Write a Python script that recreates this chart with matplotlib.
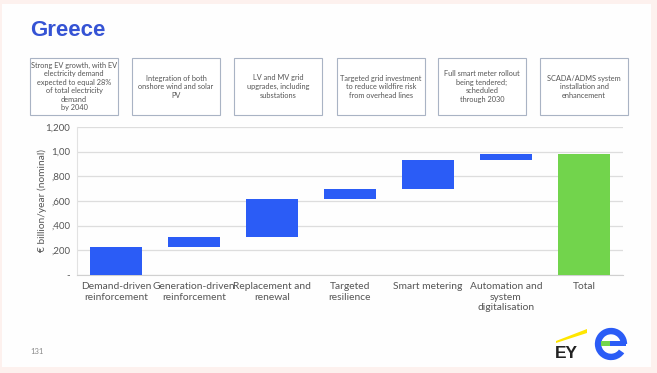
import numpy as np
import matplotlib
matplotlib.use("Agg")
import matplotlib.pyplot as plt
from matplotlib.patches import Rectangle, Wedge, Polygon

# ---- data ----
categories = ["Demand-driven\nreinforcement", "Generation-driven\nreinforcement",
              "Replacement and\nrenewal", "Targeted\nresilience", "Smart metering",
              "Automation and\nsystem\ndigitalisation", "Total"]
increments = [225, 81, 313, 78, 238, 46]
total_value = 981
ytick_values = [0, 200, 400, 600, 800, 1000, 1200]
ytick_labels = ["-", ",200", ",400", ",600", ",800", "1,00", "1,200"]
box_texts = [
    "Strong EV growth, with EV\nelectricity demand\nexpected to equal 28%\nof total electricity\ndemand\nby 2040",
    "Integration of both\nonshore wind and solar\nPV",
    "LV and MV grid\nupgrades, including\nsubstations",
    "Targeted grid investment\nto reduce wildfire risk\nfrom overhead lines",
    "Full smart meter rollout\nbeing tendered;\nscheduled\nthrough 2030",
    "SCADA/ADMS system\ninstallation and\nenhancement",
]

W, H = 657, 373
fig = plt.figure(figsize=(W / 100, H / 100), dpi=100)
fig.patch.set_facecolor("#fdf1ee")
plt.rcParams['font.family'] = ['Lato', 'DejaVu Sans']

# white panel
fig.add_artist(Rectangle((2 / W, 1 - 367 / H), 649 / W, 363 / H, transform=fig.transFigure,
                         facecolor="#fefefe", edgecolor="none", zorder=0))

ax = fig.add_axes([77 / W, 1 - 275 / H, 546 / W, 148 / H])
ax.set_facecolor("none")

bottoms = np.concatenate([[0], np.cumsum(increments)[:-1]])
x = np.arange(len(categories))
ax.bar(x[:-1], increments, bottom=bottoms, width=0.66, color="#2b5cf6", zorder=3)
ax.bar(x[-1], total_value, width=0.66, color="#72d44c", zorder=3)

ax.set_xlim(-0.5, len(categories) - 0.5)
ax.set_ylim(0, 1200)
ax.set_yticks(ytick_values)
ax.set_yticklabels(ytick_labels, fontsize=7, color="#555555")
ax.set_xticks(x)
ax.set_xticklabels(categories, fontsize=7.4, color="#555555", linespacing=1.25)
ax.tick_params(axis="y", length=0, pad=5)
ax.tick_params(axis="x", length=0, pad=5)
ax.grid(axis="y", color="#dddddd", linewidth=0.9, zorder=0)
for s in ["top", "right"]:
    ax.spines[s].set_visible(False)
ax.spines["left"].set_color("#e2e2e2")
ax.spines["left"].set_linewidth(0.8)
ax.spines["bottom"].set_color("#d0d0d0")
ax.set_ylabel("€ billion/year (nominal)", fontsize=7.3, color="#555555", labelpad=-1)

# title
fig.text(30 / W, 1 - 30 / H, "Greece", fontsize=16, fontweight="bold", color="#3553d4",
         va="center", ha="left", family=["Liberation Sans", "DejaVu Sans"])

# text boxes
box_left = [30, 132, 234, 337, 438, 540]
box_w, box_top, box_bot = 88, 58, 115
for bl, t in zip(box_left, box_texts):
    fig.add_artist(Rectangle((bl / W, 1 - box_bot / H), box_w / W, (box_bot - box_top) / H,
                             transform=fig.transFigure, facecolor="white",
                             edgecolor="#a9b3c4", linewidth=0.8))
    fig.text((bl + box_w / 2) / W, 1 - (box_top + box_bot) / 2 / H, t, fontsize=5.3,
             color="#555555", ha="center", va="center", linespacing=1.25)

# page number
fig.text(30 / W, 1 - 352 / H, "131", fontsize=5.5, color="#888888", ha="left", va="center")

# EY logo
fig.add_artist(Polygon([(556 / W, 1 - 341 / H), (587 / W, 1 - 329 / H), (587 / W, 1 - 333 / H),
                        (556 / W, 1 - 343 / H)], closed=True, transform=fig.transFigure,
                       facecolor="#ffe600", edgecolor="none"))
fig.text(555 / W, 1 - 354 / H, "EY", fontsize=12.5, fontweight="bold", color="#222222",
         ha="left", va="center", family=["Liberation Sans", "DejaVu Sans"])

# "e" logo
lax = fig.add_axes([594 / W, 1 - 361 / H, 34 / W, 34 / H])
lax.set_xlim(-1, 1); lax.set_ylim(-1, 1); lax.set_aspect("equal"); lax.axis("off")
lax.add_patch(Wedge((0, 0), 0.95, 0, 325, width=0.38, facecolor="#2b5cf6", edgecolor="none"))
lax.add_patch(Rectangle((-0.6, -0.12), 0.55, 0.3, facecolor="#72d44c", edgecolor="none"))
lax.add_patch(Rectangle((-0.05, -0.12), 0.95, 0.3, facecolor="#2b5cf6", edgecolor="none"))

fig.savefig("out.png", dpi=100, facecolor=fig.get_facecolor())
